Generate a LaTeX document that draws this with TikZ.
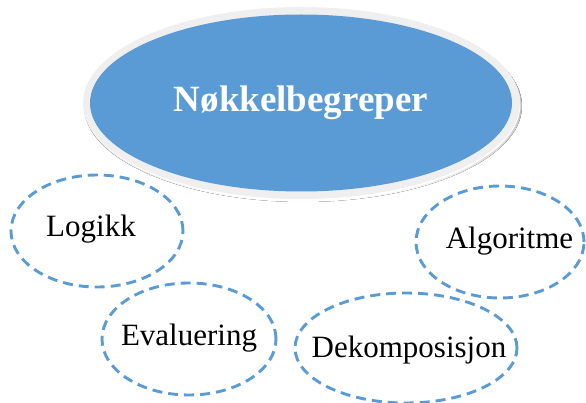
\documentclass[tikz,border=0pt]{standalone}
\usepackage{fontspec}
\setmainfont{Liberation Serif}
\usetikzlibrary{shapes.geometric}
\definecolor{accent}{HTML}{5B9BD5}
\definecolor{rim}{HTML}{EFEFEF}
\definecolor{shade}{HTML}{8FA3B9}
\tikzset{
  concept/.style={ellipse, draw=accent, line width=2.9pt, dash pattern=on 10pt off 6pt,
    inner sep=0pt},
  ctext/.style={font=\fontsize{31}{36}\selectfont, text=black, inner sep=0pt},
}
\begin{document}
\begin{tikzpicture}[x=1pt,y=-1pt]
\useasboundingbox (0,0) rectangle (586,403);
% central ellipse with rim and shadow
\fill[shade] (303,106) ellipse [x radius=219, y radius=96];
\fill[white] (302,104.5) ellipse [x radius=218.5, y radius=96];
\fill[rim] (301.5,103) ellipse [x radius=218.5, y radius=96];
\node[ellipse, fill=accent, minimum width=422pt, minimum height=177pt, inner sep=0pt,
  text=white, font=\fontsize{37}{42}\selectfont\bfseries] (main) at (301,103) {Nøkkelbegreper};
% concept ellipses
\node[concept, minimum width=172pt, minimum height=112pt,
  label={[ctext, xshift=-6pt, yshift=2pt]center:Logikk}] (logikk) at (97,231) {};
\node[concept, minimum width=174pt, minimum height=112pt,
  label={[ctext, yshift=1pt]center:Evaluering}] (eval) at (189,339) {};
\node[concept, minimum width=168pt, minimum height=112pt,
  label={[ctext, xshift=9.5pt, yshift=1pt]center:Algoritme}] (algo) at (500,242) {};
\node[concept, minimum width=222pt, minimum height=110pt,
  label={[ctext, xshift=3pt, yshift=-2pt]center:Dekomposisjon}] (dekomp) at (406,348) {};
\end{tikzpicture}
\end{document}
